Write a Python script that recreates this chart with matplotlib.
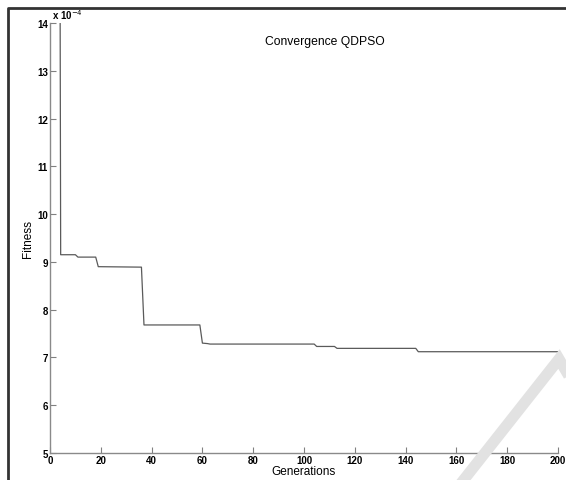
import matplotlib.pyplot as plt
from matplotlib.lines import Line2D

plt.rcParams["font.family"] = ["Liberation Sans", "DejaVu Sans"]

# best fitness per generation (x 1e-4), breakpoints
generations = [4, 4.2, 10, 11, 18, 19, 36, 37, 59, 60, 62, 63, 104, 105, 112, 113, 144, 145, 200]
fitness = [14.0, 9.15, 9.15, 9.10, 9.10, 8.90, 8.89, 7.68, 7.68, 7.30, 7.29, 7.28, 7.28,
           7.23, 7.23, 7.19, 7.19, 7.12, 7.12]

x_ticks = list(range(0, 201, 20))
y_ticks = list(range(5, 15))

fig = plt.figure(figsize=(5.66, 4.81), dpi=100)
ax = fig.add_axes([50 / 566, 27 / 481, 508 / 566, 430 / 481])
ax.patch.set_visible(False)

ax.plot(generations, fitness, color="#5a5a5a", lw=0.9)

ax.set_xlim(0, 200)
ax.set_ylim(5, 14)
ax.set_xticks(x_ticks)
ax.set_yticks(y_ticks)
ax.tick_params(direction="in", length=4, width=0.8, color="#808080", pad=1.5,
               labelsize=7)
for lab in ax.get_xticklabels() + ax.get_yticklabels():
    lab.set_fontweight("bold")

for side in ["top", "right"]:
    ax.spines[side].set_visible(False)
for side in ["left", "bottom"]:
    ax.spines[side].set_color("#8a8a8a")
    ax.spines[side].set_linewidth(1.0)

ax.set_xlabel("Generations", fontsize=8.5, labelpad=0)
ax.set_ylabel("Fitness", fontsize=8.5, labelpad=2)
ax.text(0.541, 13.62, "Convergence QDPSO", fontsize=8.7, ha="center", va="center",
        transform=ax.get_yaxis_transform())
ax.text(0.003, 1.004, r"x 10$^{-4}$", fontsize=7, fontweight="bold",
        ha="left", va="bottom", transform=ax.transAxes)

# frame lines at the left and top of the figure
fig.add_artist(Line2D([8 / 566, 8 / 566, 1.0], [0.0, 1 - 9 / 481, 1 - 9 / 481],
                      color="#333333", lw=2, transform=fig.transFigure))

# watermark stroke at bottom right
fig.add_artist(Line2D([462 / 566, 559 / 566, 566 / 566],
                      [1 - 483 / 481, 1 - 360 / 481, 1 - 372 / 481],
                      color="#e2e2e2", lw=8, solid_joinstyle="miter",
                      transform=fig.transFigure, zorder=5))

fig.savefig("out.png", dpi=100)
